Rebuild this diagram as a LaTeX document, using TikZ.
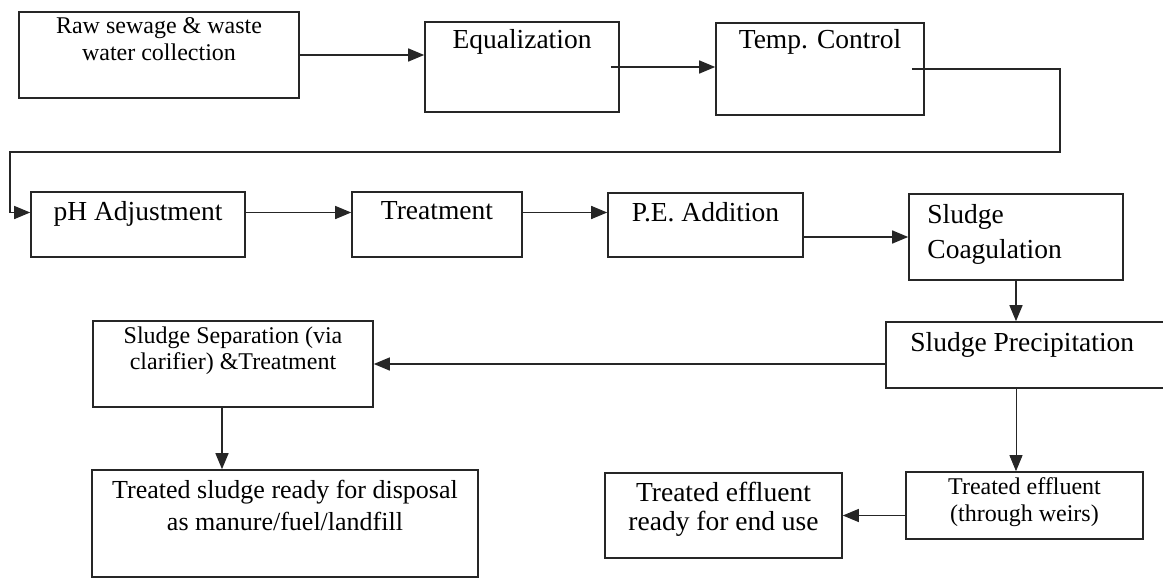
\documentclass[tikz,border=0pt]{standalone}
\usepackage{fontspec}
\setmainfont{Liberation Serif}
\usetikzlibrary{positioning,arrows.meta}

\begin{document}
\begin{tikzpicture}[x=1pt,y=-1pt,
  box/.style={draw=black!85,line width=1.6pt,inner sep=0pt},
  txt/.style={inner sep=0pt,align=center,font=\fontsize{27.5}{29}\selectfont},
  smalltxt/.style={inner sep=0pt,align=center,font=\fontsize{24}{27}\selectfont},
  flow/.style={draw=black!85,line width=1.4pt,-{Triangle[length=16pt,width=13pt]}}]
\useasboundingbox (0,0) rectangle (1163,578);
% boxes
\node[box,minimum width=280pt,minimum height=86pt] (raw) at (159,55) {};
\node[box,minimum width=194pt,minimum height=90pt] (equal) at (522,67) {};
\node[box,minimum width=208pt,minimum height=92pt] (temp) at (820,69) {};
\node[box,minimum width=214pt,minimum height=65pt] (ph) at (138,224.5) {};
\node[box,minimum width=170pt,minimum height=65pt] (treat) at (437,224.5) {};
\node[box,minimum width=195pt,minimum height=64pt] (pe) at (705.5,225) {};
\node[box,minimum width=214pt,minimum height=86pt] (coag) at (1016,237) {};
\node[box,minimum width=294pt,minimum height=66pt] (precip) at (1033,355) {};
\node[box,minimum width=280pt,minimum height=86pt] (sep) at (233,364) {};
\node[box,minimum width=386pt,minimum height=107pt] (sludge) at (285,523.5) {};
\node[box,minimum width=237pt,minimum height=67pt] (weirs) at (1024.5,505.5) {};
\node[box,minimum width=237pt,minimum height=85pt] (enduse) at (723.5,515.5) {};
% texts
\node[smalltxt,below=6pt of raw.north] (rawtxt) {Raw sewage \& waste\\water collection};
\node[txt,below=8pt of equal.north] (equaltxt) {Equalization};
\node[txt,below=7pt of temp.north] (temptxt) {Temp. Control};
\node[txt,below=10pt of ph.north] (phtxt) {pH Adjustment};
\node[txt,below=10pt of treat.north] (treattxt) {Treatment};
\node[txt,below=10pt of pe.north] (petxt) {P.E. Addition};
\node[txt,align=left,font=\fontsize{27.5}{35}\selectfont,below right=11pt and 19pt of coag.north west] (coagtxt) {Sludge\\Coagulation};
\node[txt,below right=11pt and 25pt of precip.north west] (preciptxt) {Sludge Precipitation};
\node[smalltxt,font=\fontsize{24}{26}\selectfont,below=6pt of sep.north] (septxt) {Sludge Separation (via\\clarifier) \&Treatment};
\node[txt,font=\fontsize{26}{32}\selectfont,below=11pt of sludge.north] (sludgetxt) {Treated sludge ready for disposal\\as manure/fuel/landfill};
\node[smalltxt,below=6pt of weirs.north] (weirstxt) {Treated effluent\\(through weirs)};
\node[txt,below=10pt of enduse.north] (endusetxt) {Treated effluent\\ready for end use};
% connectors
\coordinate (bendr) at (1060,152);
\coordinate (bendl) at (10,152);
\draw[flow] (raw.east) -- (raw.east -| equal.west);
\draw[flow] ([xshift=-9pt]equal.east) -- (equal.east -| temp.west);
\draw[flow] ([xshift=-13pt]temp.east) -| (bendr) -- (bendl) |- ([yshift=12pt]ph.west);
\draw[flow] ([yshift=12pt]ph.east) -- ([yshift=12pt]ph.east -| treat.west);
\draw[flow] ([yshift=12pt]treat.east) -- ([yshift=12pt]treat.east -| pe.west);
\draw[flow] (coag.west -| pe.east) -- (coag.west);
\draw[flow] (coag.south) -- (coag.south |- precip.north);
\draw[flow] (sep.east -| precip.west) -- (sep.east);
\draw[flow] ([xshift=-11pt]sep.south) -- ([xshift=-11pt]sep.south |- sludge.north);
\draw[flow,line width=0.8pt] (coag.south |- precip.south) -- (coag.south |- weirs.north);
\draw[flow] (enduse.east -| weirs.west) -- (enduse.east);
\end{tikzpicture}
\end{document}
